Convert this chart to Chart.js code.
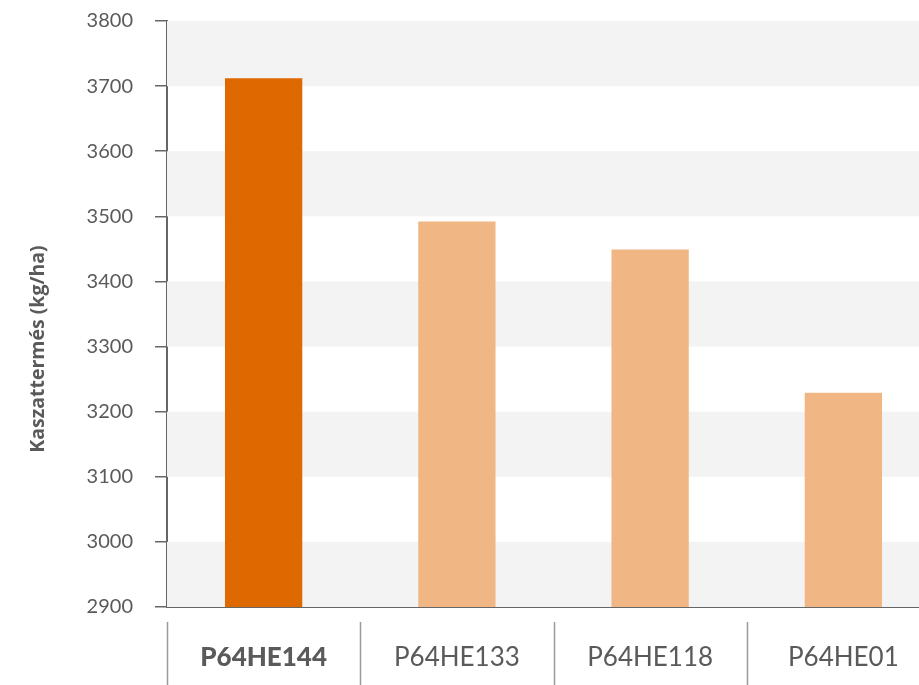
<!DOCTYPE html>
<html lang="hu">
<head>
<meta charset="utf-8">
<title>Kaszattermés</title>
<script src="https://cdn.jsdelivr.net/npm/chart.js@4/dist/chart.umd.min.js"></script>
<style>
    html, body { margin: 0; padding: 0; background: #fff; overflow: hidden; }
    #wrap { position: relative; width: 940px; height: 685px; }
</style>
</head>
<body>
<div id="wrap"><canvas id="yieldChart"></canvas></div>
<script>
// Chart data
const categories = ['P64HE144', 'P64HE133', 'P64HE118', 'P64HE01'];
const yieldValues = [3712, 3492, 3449, 3229];
const yMin = 2900;
const yMax = 3800;
const yStep = 100;
const axisTitle = 'Kaszattermés (kg/ha)';

const textColor = '#5a5a5a';
const axisColor = '#666666';
const fontFamily = 'Lato, "Noto Sans", sans-serif';

// Alternating grey bands between y ticks + separators under the x axis + y title
const decorPlugin = {
    id: 'decor',
    beforeDatasetsDraw(chart) {
        const { ctx, chartArea } = chart;
        const y = chart.scales.y;
        const ticks = y.ticks;
        ctx.save();
        ctx.fillStyle = '#f3f3f3';
        for (let i = 0; i < ticks.length - 1; i++) {
            if (i % 2 !== 0) continue;
            const top = y.getPixelForValue(ticks[i + 1].value);
            const bottom = y.getPixelForValue(ticks[i].value);
            ctx.fillRect(chartArea.left, top, chartArea.right - chartArea.left, bottom - top);
        }
        ctx.restore();
    },
    afterDraw(chart) {
        const { ctx } = chart;
        const x = chart.scales.x;
        const half = (x.getPixelForValue(1) - x.getPixelForValue(0)) / 2;
        ctx.save();
        ctx.strokeStyle = '#9a9a9a';
        ctx.lineWidth = 1.5;
        categories.forEach((c, i) => {
            const px = Math.round(x.getPixelForValue(i) - half) + 0.5;
            ctx.beginPath();
            ctx.moveTo(px, x.top + 15);
            ctx.lineTo(px, chart.height);
            ctx.stroke();
        });

        // rotated axis title
        ctx.translate(38, 349);
        ctx.rotate(-Math.PI / 2);
        ctx.fillStyle = textColor;
        ctx.font = 'bold 19.5px "Open Sans", ' + fontFamily;
        ctx.textAlign = 'center';
        ctx.textBaseline = 'middle';
        ctx.fillText(axisTitle, 0, 0);
        ctx.restore();
    }
};

new Chart(document.getElementById('yieldChart'), {
    type: 'bar',
    data: {
        labels: categories,
        datasets: [{
            label: axisTitle,
            data: yieldValues,
            backgroundColor: (c) => c.dataIndex === 0 ? '#dd6900' : '#f0b784',
            borderWidth: 0,
            barPercentage: 0.4,
            categoryPercentage: 1
        }]
    },
    options: {
        responsive: true,
        maintainAspectRatio: false,
        animation: false,
        layout: { padding: { top: 21, right: 0, bottom: 0, left: 0 } },
        plugins: {
            legend: { display: false },
            tooltip: { enabled: false }
        },
        scales: {
            y: {
                min: yMin,
                max: yMax,
                afterFit: (scale) => {
                    scale.width = 167;
                    // label padding would otherwise push the chart area down
                    scale.paddingTop = 0;
                    scale.paddingBottom = 0;
                },
                ticks: {
                    stepSize: yStep,
                    padding: 22,
                    color: textColor,
                    font: { family: fontFamily, size: 20 },
                    callback: (v) => String(v)
                },
                grid: {
                    drawOnChartArea: false,
                    drawTicks: true,
                    tickLength: 12,
                    color: axisColor,
                    lineWidth: 1.5
                },
                border: { color: axisColor, width: 2 }
            },
            x: {
                afterFit: (scale) => { scale.height = 78; },
                grid: { display: false, drawTicks: false },
                border: { color: axisColor, width: 2 },
                ticks: {
                    padding: 35,
                    color: textColor,
                    font: (c) => ({
                        family: fontFamily,
                        size: 26,
                        weight: c.index === 0 ? '900' : 'normal'
                    })
                }
            }
        }
    },
    plugins: [decorPlugin]
});
</script>
</body>
</html>
